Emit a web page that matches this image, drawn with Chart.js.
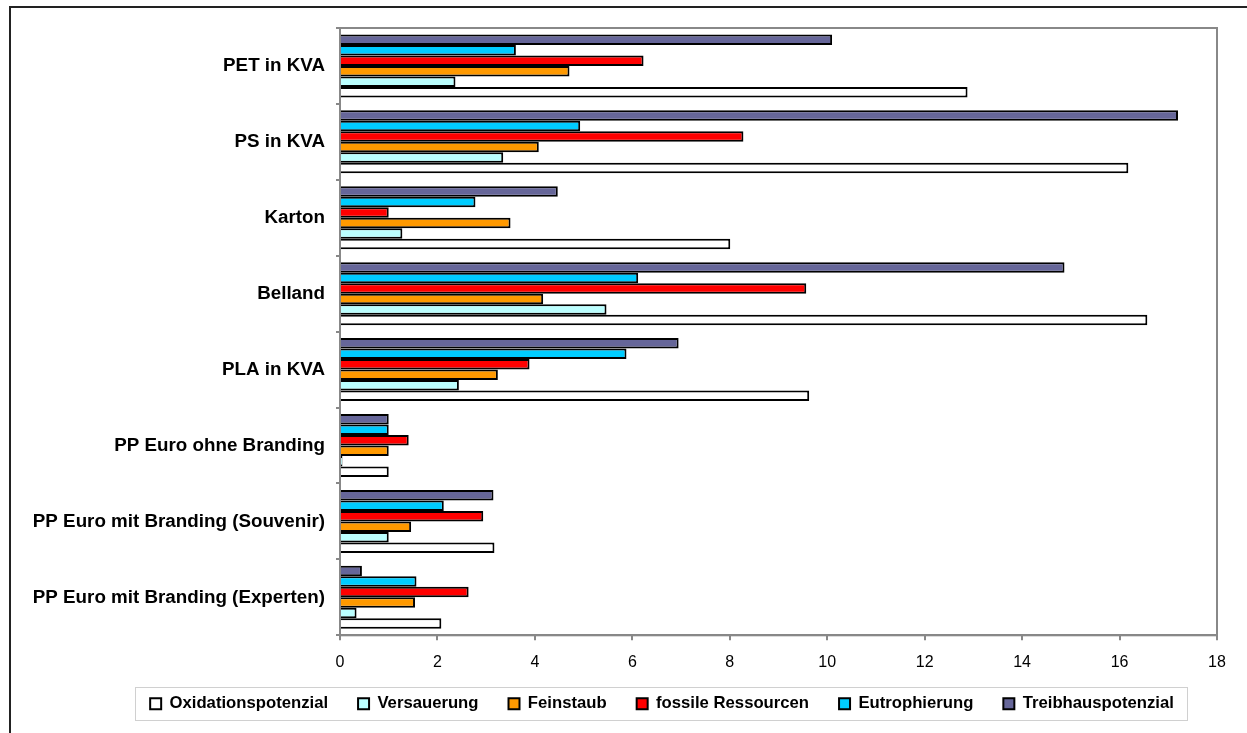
<!DOCTYPE html>
<html lang="de">
<head>
  <meta charset="utf-8">
  <title>Umweltwirkungen Becher</title>
  <script src="https://cdn.jsdelivr.net/npm/chart.js"></script>
  <style>
    html, body { margin: 0; padding: 0; background: #fff; }
    #wrap { position: relative; width: 1247px; height: 733px; overflow: hidden; }
    #frame { position: absolute; left: 9px; top: 6px; width: 1300px; height: 800px;
             border-left: 2px solid #222; border-top: 2px solid #222; }
    canvas { position: absolute; left: 0; top: 0; }
  </style>
</head>
<body>
  <div id="wrap">
    <div id="frame"></div>
    <canvas id="chart" width="1247" height="733"></canvas>
  </div>

  <script>
    // Kategorien (von oben nach unten)
    const kategorien = [
      'PET in KVA',
      'PS in KVA',
      'Karton',
      'Belland',
      'PLA in KVA',
      'PP Euro ohne Branding',
      'PP Euro mit Branding (Souvenir)',
      'PP Euro mit Branding (Experten)'
    ];

    // Werte je Wirkungskategorie, gleiche Reihenfolge wie oben
    const treibhauspotenzial = [10.1, 17.2, 4.47, 14.87, 6.95, 1.0, 3.15, 0.45];
    const eutrophierung      = [3.61, 4.93, 2.78, 6.12, 5.88, 1.0, 2.13, 1.57];
    const fossileRessourcen  = [6.23, 8.28, 1.0, 9.57, 3.89, 1.41, 2.94, 2.64];
    const feinstaub          = [4.71, 4.08, 3.5, 4.17, 3.24, 1.0, 1.46, 1.54];
    const versauerung        = [2.37, 3.35, 1.28, 5.47, 2.44, 0.05, 1.0, 0.34];
    const oxidationspotenzial = [12.88, 16.18, 8.01, 16.57, 9.63, 1.0, 3.17, 2.08];

    const xTicks = [0, 2, 4, 6, 8, 10, 12, 14, 16, 18];

    function serie(label, data, farbe) {
      return {
        label: label,
        data: data,
        backgroundColor: farbe,
        borderColor: '#000',
        borderWidth: 2,
        categoryPercentage: 0.83,
        barPercentage: 1.0
      };
    }

    // Legende etwas nach rechts/oben schieben, wie im Original
    const legendeVerschieben = {
      id: 'legendeVerschieben',
      afterLayout(chart) {
        const lg = chart.legend;
        lg.left += 48.5;
        lg.right += 48.5;
        lg.top -= 5;
        lg.bottom -= 5;
      }
    };

    // Rahmen um Plotfläche und Legende
    const rahmenPlugin = {
      id: 'rahmen',
      afterDraw(chart) {
        const ctx = chart.ctx;
        const a = chart.chartArea;
        ctx.save();
        ctx.strokeStyle = '#888';
        ctx.lineWidth = 2;
        ctx.strokeRect(a.left, a.top, a.right - a.left, a.bottom - a.top);

        const boxes = chart.legend.legendHitBoxes;
        if (boxes && boxes.length) {
          let l = Infinity, r = -Infinity, t = Infinity, b = -Infinity;
          boxes.forEach(h => {
            l = Math.min(l, h.left); r = Math.max(r, h.left + h.width);
            t = Math.min(t, h.top); b = Math.max(b, h.top + h.height);
          });
          ctx.strokeStyle = '#d0d0d0';
          ctx.lineWidth = 1;
          ctx.strokeRect(Math.round(l - 15) + 0.5, Math.round(t - 8) + 0.5,
                         Math.round(r - l + 28), Math.round(b - t + 16));
        }
        ctx.restore();
      }
    };

    const ctx = document.getElementById('chart').getContext('2d');
    new Chart(ctx, {
      type: 'bar',
      data: {
        labels: kategorien,
        datasets: [
          serie('Treibhauspotenzial', treibhauspotenzial, '#666699'),
          serie('Eutrophierung', eutrophierung, '#00CCFF'),
          serie('fossile Ressourcen', fossileRessourcen, '#FF0000'),
          serie('Feinstaub', feinstaub, '#FF9900'),
          serie('Versauerung', versauerung, '#BBFFFF'),
          serie('Oxidationspotenzial', oxidationspotenzial, '#FFFFFF')
        ]
      },
      options: {
        indexAxis: 'y',
        responsive: false,
        animation: false,
        layout: { padding: { left: 10, right: 30, top: 28, bottom: 6 } },
        scales: {
          x: {
            min: 0,
            max: 18,
            afterBuildTicks(scale) {
              scale.ticks = xTicks.map(v => ({ value: v }));
            },
            afterFit(scale) { scale.height = 35; },
            grid: { drawOnChartArea: false, color: '#888', tickLength: 5, lineWidth: 2 },
            border: { color: '#888', width: 2 },
            ticks: { color: '#000', font: { family: 'Liberation Sans, Arial', size: 16 }, padding: 13 }
          },
          y: {
            afterFit(scale) { scale.width = 330; },
            grid: { drawOnChartArea: false, color: '#888', tickLength: 4, lineWidth: 2, offset: true },
            border: { color: '#888', width: 2 },
            ticks: { color: '#000', font: { family: 'Liberation Sans, Arial', size: 18.8, weight: 'bold' }, padding: 11 }
          }
        },
        plugins: {
          legend: {
            position: 'bottom',
            reverse: true,
            labels: {
              color: '#000',
              boxWidth: 11,
              boxHeight: 11,
              padding: 30,
              font: { family: 'Liberation Sans, Arial', size: 16.7, weight: 'bold' }
            }
          },
          tooltip: { enabled: false }
        }
      },
      plugins: [legendeVerschieben, rahmenPlugin]
    });
  </script>
</body>
</html>
